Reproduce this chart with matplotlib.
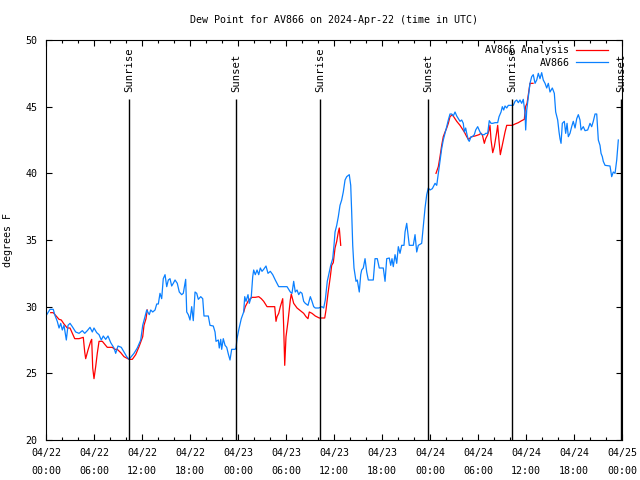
import numpy as np
import pandas as pd
import matplotlib
matplotlib.use("Agg")
import matplotlib.pyplot as plt
import matplotlib.dates as mdates


# ---------- DATA (hours after 2024-04-22 00:00 UTC, dew point in F) ---------- #

obs_hours = [
    0.09, 0.5, 0.91, 1.09, 1.41, 1.63, 1.84, 2.04, 2.25, 2.54, 2.75, 3.0, 3.29, 3.71,
    4.13, 4.54, 4.84, 5.16, 5.5, 5.79, 6.0, 6.34, 6.63, 6.91, 7.16, 7.46, 7.75, 8.09,
    8.5, 8.71, 9.0, 9.41, 9.75, 10.09, 10.38, 10.66, 11.0, 11.41, 11.84, 12.09, 12.38,
    12.59, 12.91, 13.09, 13.34, 13.63, 13.84, 14.04, 14.25, 14.46, 14.66, 14.88, 15.09,
    15.29, 15.5, 15.71, 15.91, 16.13, 16.41, 16.66, 16.96, 17.16, 17.46, 17.59, 17.79,
    18.0, 18.21, 18.41, 18.63, 18.84, 19.04, 19.34, 19.59, 19.75, 20.29, 20.5, 20.91,
    21.13, 21.25, 21.54, 21.66, 21.84, 21.96, 22.16, 22.38, 22.59, 22.79, 23.0, 23.21,
    23.63, 23.75, 23.88, 24.09, 24.41, 24.71, 24.84, 25.0, 25.25, 25.41, 25.66, 25.84,
    25.96, 26.16, 26.38, 26.59, 26.79, 27.0, 27.21, 27.5, 27.75, 28.04, 28.34, 28.66,
    28.88, 29.09, 30.13, 30.54, 30.75, 30.96, 31.16, 31.38, 31.59, 31.79, 32.0, 32.21,
    32.41, 32.75, 33.04, 33.25, 33.46, 33.66, 34.09, 34.5, 34.71, 34.91, 35.0, 35.16,
    35.41, 35.59, 35.84, 36.0, 36.13, 36.34, 36.54, 36.75, 36.96, 37.16, 37.38, 37.59,
    37.91, 38.09, 38.21, 38.34, 38.5, 38.75, 38.91, 39.16, 39.34, 39.46, 39.66, 39.88,
    40.09, 40.29, 40.91, 41.13, 41.41, 41.66, 42.16, 42.38, 42.59, 42.91, 43.09, 43.25,
    43.41, 43.63, 43.84, 44.04, 44.25, 44.46, 44.75, 44.88, 45.09, 45.29, 45.41, 45.91,
    46.13, 46.34, 46.54, 46.96, 47.16, 47.38, 47.59, 47.79, 48.0, 48.29, 48.63, 48.84,
    49.04, 49.25, 49.46, 49.66, 49.88, 50.09, 50.29, 50.5, 50.71, 50.91, 51.13, 51.34,
    51.54, 51.75, 51.96, 52.16, 52.29, 52.46, 52.59, 52.79, 52.91, 53.13, 53.29, 53.54,
    53.71, 53.96, 54.25, 54.46, 54.79, 54.96, 55.21, 55.41, 55.63, 55.84, 56.13, 56.46,
    56.63, 56.88, 57.04, 57.21, 57.38, 57.59, 57.79, 58.13, 58.41, 58.63, 58.84, 59.04,
    59.25, 59.46, 59.66, 59.88, 59.96, 60.09, 60.29, 60.5, 60.71, 60.91, 61.13, 61.34,
    61.54, 61.75, 61.96, 62.16, 62.38, 62.59, 62.79, 63.0, 63.29, 63.54, 63.71, 63.96,
    64.13, 64.25, 64.38, 64.54, 64.79, 64.96, 65.13, 65.29, 65.5, 65.71, 65.91, 66.13,
    66.34, 66.54, 66.75, 66.88, 67.16, 67.38, 67.71, 68.0, 68.21, 68.41, 68.63, 68.84,
    69.04, 69.25, 69.38, 69.54, 69.66, 69.88, 70.5, 70.71, 70.91, 71.13, 71.34, 71.54,
]
obs_dewp = [
    29.4, 29.8, 29.8, 29.4, 28.9, 28.4, 28.75, 28.25, 28.6, 27.5, 28.6, 28.75, 28.5, 28.1,
    28.0, 28.2, 28.0, 28.2, 28.45, 28.1, 28.4, 28.05, 27.9, 27.5, 27.8, 27.55, 27.8, 27.3,
    26.9, 26.5, 27.05, 26.95, 26.6, 26.25, 26.05, 26.25, 26.5, 26.9, 27.5, 28.6, 29.25,
    29.75, 29.4, 29.75, 29.6, 29.75, 30.2, 30.2, 31.0, 30.6, 32.1, 32.4, 31.5,
    32.0, 32.1, 31.55, 31.75, 32.0, 31.75, 31.1, 30.9, 31.0, 32.05, 29.6, 29.4,
    29.0, 30.0, 28.95, 31.1, 31.0, 30.55, 30.75, 30.6, 29.3, 29.3, 28.6, 28.55,
    28.1, 27.4, 27.5, 26.9, 27.55, 26.8, 27.6, 27.1, 26.95, 26.45, 26.0, 26.8,
    26.8, 26.9, 27.6, 28.25, 29.1, 29.6, 30.75, 30.4, 30.9, 30.25, 30.75, 32.25,
    32.75, 32.4, 32.75, 32.4, 32.9, 32.65, 32.8, 33.05, 32.5, 32.65, 32.4, 32.0,
    31.75, 31.5, 31.5, 31.1, 31.0, 31.9, 31.1, 31.25, 30.9, 31.1, 31.0, 30.4,
    30.25, 30.1, 30.75, 30.4, 30.0, 29.9, 29.9, 30.0, 29.9, 30.5, 31.0, 31.9,
    32.6, 33.1, 33.6, 34.6, 35.6, 36.1, 36.75, 37.6, 38.0, 38.6, 39.5, 39.75,
    39.9, 39.1, 37.1, 34.6, 32.9, 31.9, 32.0, 31.1, 32.4, 32.75, 32.9, 33.6,
    32.6, 32.0, 32.0, 33.6, 33.6, 32.9, 32.9, 31.9, 33.6, 33.65, 33.1, 33.6,
    33.0, 33.9, 33.25, 34.5, 34.0, 34.6, 34.6, 35.6, 36.25, 35.25, 34.6, 34.6,
    35.4, 34.1, 34.6, 34.75, 36.0, 37.4, 38.4, 38.9, 38.75, 38.85, 39.25, 39.1,
    40.0, 41.0, 41.85, 42.5, 43.0, 43.5, 44.0, 44.45, 44.45, 44.3, 44.6, 44.3,
    44.1, 43.9, 44.0, 43.75, 43.1, 43.4, 43.0, 42.5, 42.4, 42.75, 42.75, 42.9,
    43.25, 43.5, 43.1, 42.9, 42.9, 43.0, 43.0, 43.95, 43.75, 43.75, 43.8, 43.8,
    44.25, 44.6, 45.0, 44.75, 45.05, 44.9, 45.1, 45.1, 45.1, 45.4, 45.5, 45.3,
    45.5, 45.25, 45.55, 44.5, 43.25, 44.75, 45.75, 46.75, 47.25, 47.4, 46.75, 47.0,
    47.5, 47.1, 47.55, 47.0, 46.75, 46.4, 46.75, 46.1, 46.4, 46.0, 44.6, 44.0,
    43.1, 42.6, 42.25, 43.75, 43.9, 43.0, 43.75, 42.75, 43.0, 43.5, 43.9, 43.4,
    44.1, 44.4, 44.0, 43.25, 43.5, 43.2, 43.25, 43.75, 43.5, 43.9, 44.45, 44.45,
    42.5, 42.1, 41.5, 41.25, 40.9, 40.6, 40.55, 39.75, 40.1, 40.0, 41.0, 42.5,
]

# analysis series, None marks a gap
ana_hours = [
    0.59, 0.91, 1.34, 1.63, 1.91, 2.25, 2.66, 3.0, 3.29, 3.59, 4.13, 4.66, 4.84, 4.96,
    5.25, 5.59, 5.71, 5.84, 6.0, 6.21, 6.41, 6.63, 7.04, 7.66, 8.29, 8.59, 8.91, 9.34,
    9.75, 10.38, 10.79, 11.21, 11.63, 11.75, 12.09, 12.25, 12.5, 12.66,
    13.0,
    24.71, 24.91, 25.34, 25.75, 26.16, 26.59, 26.91, 27.21, 27.63, 28.59, 28.75, 28.88,
    29.09, 29.29, 29.59, 29.71, 29.84, 30.0, 30.25, 30.54, 30.66, 30.96, 31.38, 31.79,
    32.21, 32.5, 32.75, 32.91, 33.25, 33.66, 34.16, 34.84, 35.0, 35.25, 35.54, 35.71,
    35.91, 36.13, 36.34, 36.54, 36.66, 36.84,
    37.0,
    48.75, 49.04, 49.25, 49.46, 49.66, 49.88, 50.09, 50.29, 50.5, 50.79, 51.13, 51.34,
    51.75, 51.96, 52.29, 52.59, 52.79, 53.21, 53.63, 54.13, 54.38, 54.54, 54.79, 54.96,
    55.21, 55.38, 55.5, 55.63, 55.84, 56.04, 56.34, 56.46, 56.63, 56.79, 56.96, 57.16,
    57.38, 57.59, 58.0, 58.29, 58.63, 59.04, 59.46, 59.79, 59.94, 60.13, 60.31, 60.5,
    60.88,
]
ana_dewp = [
    29.55, 29.55, 29.25, 29.05, 29.0, 28.7, 28.4, 28.4, 28.0, 27.6, 27.6, 27.7, 26.6, 26.1,
    26.75, 27.4, 27.55, 25.4, 24.6, 25.5, 26.5, 27.4, 27.4, 26.95, 26.95, 26.8, 26.8, 26.55,
    26.25, 26.05, 26.05, 26.4, 27.0, 27.2, 27.75, 28.6, 29.1, 29.75,
    None,
    29.6, 30.0, 30.5, 30.7, 30.7, 30.75, 30.6, 30.4, 30.0, 30.0, 28.9, 29.25,
    29.5, 30.0, 30.6, 28.5, 25.6, 27.75, 28.9, 30.5, 30.95, 30.25, 29.9, 29.7,
    29.5, 29.25, 29.1, 29.6, 29.5, 29.3, 29.15, 29.15, 29.75, 31.0, 32.25, 33.1,
    33.3, 34.4, 34.9, 35.6, 35.9, 34.6,
    None,
    40.0, 40.5, 41.25, 42.1, 42.75, 43.1, 43.4, 43.75, 44.25, 44.4, 44.1, 43.9,
    43.6, 43.4, 43.1, 42.75, 42.55, 42.75, 42.8, 42.9, 43.0, 42.9, 42.25, 42.6,
    42.9, 43.25, 43.6, 42.5, 41.55, 42.0, 43.1, 43.6, 42.4, 41.4, 41.9, 42.5,
    43.1, 43.6, 43.6, 43.6, 43.7, 43.8, 43.95, 44.05, 45.0, 45.25, 46.0, 46.75,
    46.75,
]

event_hours = [10.38, 23.75, 34.25, 47.75, 58.25, 71.9]
event_labels = ["Sunrise", "Sunset", "Sunrise", "Sunset", "Sunrise", "Sunset"]


# ---------- CONVERT HOURS TO TIMES ---------- #

start = pd.Timestamp("2024-04-22 00:00")
obs_t = start + pd.to_timedelta(obs_hours, unit="h")
ana_t = start + pd.to_timedelta(ana_hours, unit="h")
ana_v = np.array([np.nan if v is None else v for v in ana_dewp], dtype=float)
event_t = start + pd.to_timedelta(event_hours, unit="h")


# ---------- PLOT ---------- #

plt.rcParams["font.family"] = ["DejaVu Sans Mono"]
plt.rcParams["font.size"] = 7.2

fig = plt.figure(figsize=(6.4, 4.8), dpi=100)
ax = fig.add_axes([46 / 640, 40 / 480, 576 / 640, 400 / 480])

ax.plot(ana_t, ana_v, color="#ff0000", lw=0.9, label="AV866 Analysis")
ax.plot(obs_t, obs_dewp, color="#0a80ff", lw=0.9, label="AV866")

for t, lab in zip(event_t, event_labels):
    ax.vlines(t, 20, 45.6, color="black", lw=1.0)
    ax.text(t, 46.1, lab, rotation=90, ha="center", va="bottom", fontsize=7.6)

ax.set_xlim(start, start + pd.Timedelta(hours=72))
ax.set_ylim(20, 50)
ax.set_yticks(range(20, 51, 5))

ax.xaxis.set_major_locator(mdates.HourLocator(byhour=[0, 6, 12, 18]))
ax.xaxis.set_minor_locator(mdates.HourLocator(interval=2))
ax.xaxis.set_major_formatter(mdates.DateFormatter("%m/%d\n%H:%M"))

ax.tick_params(which="both", direction="in", top=True, right=True, width=0.8)
ax.tick_params(which="major", length=4, pad=6)
ax.tick_params(which="minor", length=2)
for lab in ax.get_xticklabels():
    lab.set_linespacing(1.9)

for s in ax.spines.values():
    s.set_linewidth(0.8)

ax.set_title("Dew Point for AV866 on 2024-Apr-22 (time in UTC)", fontsize=7.2, pad=12)
ax.set_ylabel("degrees F", labelpad=9)

ax.legend(loc="upper right", bbox_to_anchor=(0.986, 1.0), frameon=False,
          markerfirst=False, handlelength=3.2, borderaxespad=0.25,
          labelspacing=0.25, handletextpad=0.7, borderpad=0.3)

fig.savefig("out.png", dpi=100)
